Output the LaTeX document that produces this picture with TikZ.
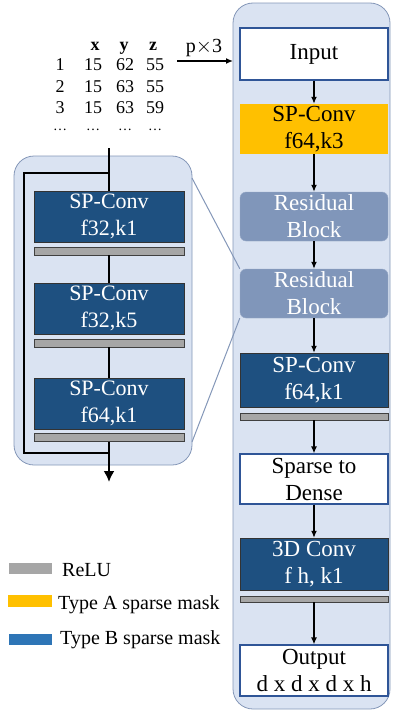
\documentclass[tikz,border=0pt]{standalone}
\usepackage{fontspec}
\setmainfont{Liberation Serif}
\usetikzlibrary{arrows.meta}

\definecolor{panelfill}{RGB}{218,227,242}
\definecolor{paneldraw}{RGB}{132,151,184}
\definecolor{convblue}{RGB}{30,80,128}
\definecolor{resblue}{RGB}{128,150,186}
\definecolor{maskA}{RGB}{255,192,0}
\definecolor{maskB}{RGB}{46,117,182}
\definecolor{relugrey}{RGB}{166,166,166}
\definecolor{inputdraw}{RGB}{47,85,151}

\tikzset{
    layer/.style={minimum width=148pt, minimum height=50pt, inner sep=0pt, align=center,
        font=\fontsize{23}{27}\selectfont},
    convbox/.style={layer, draw=black!80, fill=convblue, text=white},
    typea/.style={layer, fill=maskA},
    resbox/.style={layer, draw=resblue!80!white, fill=resblue, text=white, rounded corners=6pt},
    plainbox/.style={layer, draw=inputdraw, line width=1.2pt, fill=white},
    relubar/.style={draw=black!75, fill=relugrey, minimum width=148pt, minimum height=7pt, inner sep=0pt},
    flow/.style={-{Latex[length=7pt,width=6pt]}, line width=1.3pt},
    tab/.style={anchor=base, font=\fontsize{18}{20}\selectfont, inner sep=0pt},
    legtext/.style={anchor=base west, font=\fontsize{20}{22}\selectfont, inner sep=0pt}
}

\begin{document}
\begin{tikzpicture}[x=1pt, y=-1pt]
    \useasboundingbox (0,0) rectangle (392,712);

    % panels
    \filldraw[draw=paneldraw, fill=panelfill, line width=0.8pt, rounded corners=20pt] (233,3) rectangle (390,709);
    \filldraw[draw=paneldraw, fill=panelfill, line width=0.8pt, rounded corners=20pt] (14,156) rectangle (192,465);

    % point table
    \foreach \c/\x in {x/95, y/124, z/153} {\node[tab, font=\fontsize{18}{20}\selectfont\bfseries] (head\c) at (\x,50) {\c};}
    \foreach \r/\y/\a/\b/\d in {1/70/15/62/55, 2/92/15/63/55, 3/113/15/63/59} {
        \node[tab] (num\r) at (60,\y) {\r};
        \node[tab] (xa\r) at (93,\y) {\a};
        \node[tab] (ya\r) at (125,\y) {\b};
        \node[tab] (za\r) at (155,\y) {\d};
    }
    \foreach \x [count=\i] in {60, 93, 125, 155} {\node[tab, font=\fontsize{14}{16}\selectfont] (dots\i) at (\x,130) {\dots};}
    \node[tab, font=\fontsize{20}{22}\selectfont] (pin) at (204,52) {p$\times$3};
    \coordinate (tabout) at (177,61);
    \coordinate (panelin) at (233,61);
    \draw[flow] (tabout) -- (panelin);

    % main column
    \node[plainbox, minimum height=52pt] (input) at (314,54) {Input};
    \node[typea] (spa) at (314,129) {SP-Conv\\f64,k3};
    \node[resbox, minimum height=49pt] (resa) at (314,216.5) {Residual\\Block};
    \node[resbox, minimum height=49pt] (resb) at (314,293.5) {Residual\\Block};
    \node[convbox, minimum height=54pt] (spb) at (314,380) {SP-Conv\\f64,k1};
    \node[relubar] (relua) at (314,416.5) {};
    \node[plainbox] (dense) at (314,479) {Sparse to\\Dense};
    \node[convbox, minimum height=52pt] (conv3d) at (314,564) {3D Conv\\f h, k1};
    \node[relubar, minimum height=6pt] (relub) at (314,599) {};
    \node[plainbox, minimum height=51pt] (output) at (314,670.5) {Output\\d x d x d x h};

    \draw[flow] (input) -- (spa);
    \draw[flow] (spa) -- (resa);
    \draw[flow] (resa) -- (resb);
    \draw[flow] (resb) -- (spb);
    \draw[flow] (relua) -- (dense);
    \draw[flow] (dense) -- (conv3d);
    \draw[flow] (relub) -- (output);

    % residual block detail
    \coordinate (rtop) at (109,148);
    \coordinate (split) at (109,173);
    \coordinate (merge) at (109,453);
    \coordinate (rout) at (109,482);
    \node[convbox, minimum width=150pt, minimum height=51pt, font=\fontsize{22}{27}\selectfont] (cva) at (109,216.5) {SP-Conv\\f32,k1};
    \node[relubar, minimum width=150pt, minimum height=8pt] (rla) at (109,251) {};
    \node[convbox, minimum width=150pt, minimum height=51pt, font=\fontsize{22}{27}\selectfont] (cvb) at (109,308.5) {SP-Conv\\f32,k5};
    \node[relubar, minimum width=150pt, minimum height=8pt] (rlb) at (109,343) {};
    \node[convbox, minimum width=150pt, minimum height=51pt, font=\fontsize{22}{27}\selectfont] (cvc) at (109,403.5) {SP-Conv\\f64,k1};
    \node[relubar, minimum width=150pt, minimum height=8pt] (rlc) at (109,437.5) {};
    \draw[line width=2pt] (rtop) -- (cva);
    \draw[line width=2pt] (rla) -- (cvb);
    \draw[line width=2pt] (rlb) -- (cvc);
    \draw[line width=2pt, -{Latex[length=11pt,width=11pt]}] (rlc) -- (rout);
    \draw[line width=2pt] (split) -| (24,453) -- (merge);

    % zoom lines
    \coordinate (zooma) at (192,178);
    \coordinate (zoomb) at (192,442);
    \draw[paneldraw, line width=1pt] (zooma) -- (resb.north west);
    \draw[paneldraw, line width=1pt] (zoomb) -- (resb.south west);

    % legend
    \fill[relugrey] (9,563) rectangle (52,574);
    \fill[maskA] (8,595) rectangle (52,607);
    \fill[maskB] (9,634) rectangle (52,645);
    \node[legtext] (lrelu) at (62,576) {ReLU};
    \node[legtext] (lmaska) at (58,609) {Type A sparse mask};
    \node[legtext] (lmaskb) at (60,644) {Type B sparse mask};
\end{tikzpicture}
\end{document}
